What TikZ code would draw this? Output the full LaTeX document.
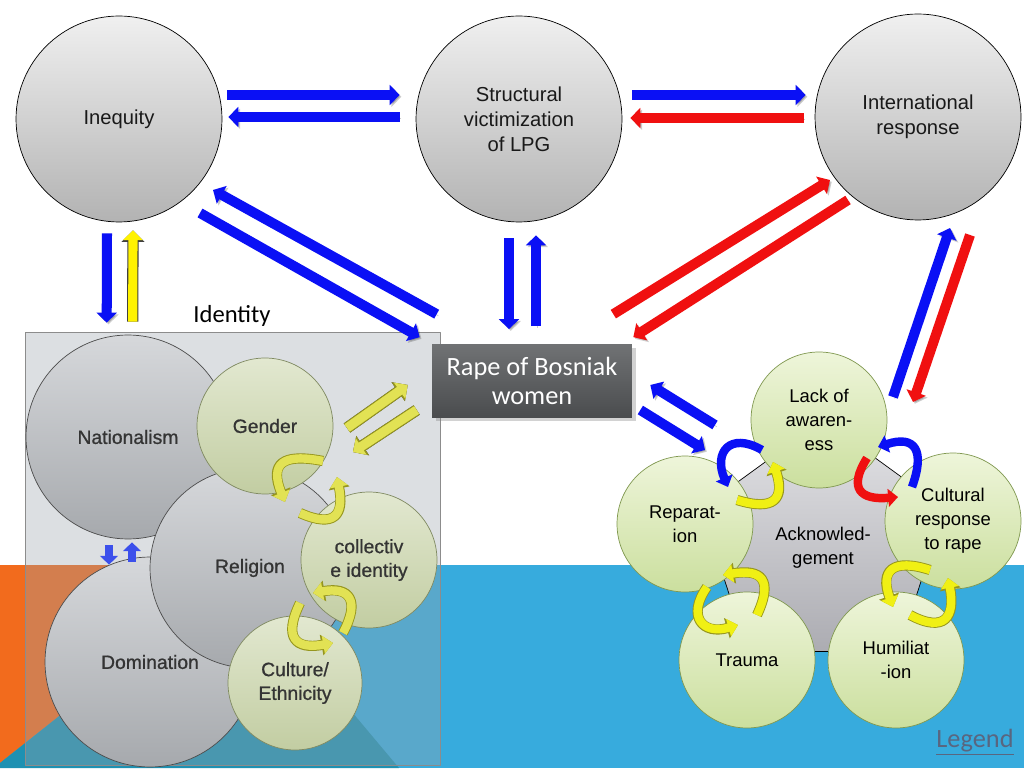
\documentclass[tikz,border=0pt]{standalone}
\usepackage{fontspec}
\setmainfont{Liberation Sans}
\newfontfamily\calib{Carlito}
\newfontfamily\idfont{Liberation Sans}[FakeBold=0.9]
\usetikzlibrary{shapes.geometric,arrows.meta,calc,shadows}
\definecolor{arrblue}{RGB}{10,16,245}
\definecolor{arrred}{RGB}{240,16,16}
\definecolor{sblue}{RGB}{60,80,235}
\definecolor{bandblue}{RGB}{55,171,221}
\definecolor{darkband}{RGB}{30,145,178}
\definecolor{orng}{RGB}{242,107,29}
\definecolor{boxgray}{RGB}{155,164,172}
\definecolor{idtext}{RGB}{52,52,52}
\definecolor{idgtop}{RGB}{214,216,219}
\definecolor{idgbot}{RGB}{166,169,173}
\definecolor{idrtop}{RGB}{226,232,208}
\definecolor{idrbot}{RGB}{194,205,162}
\definecolor{idredge}{RGB}{128,138,98}
\definecolor{acktop}{RGB}{238,245,218}
\definecolor{ackbot}{RGB}{203,223,158}
\definecolor{ackedge}{RGB}{128,152,80}
\definecolor{penttop}{RGB}{228,228,231}
\definecolor{pentbot}{RGB}{172,172,178}
\definecolor{rapetop}{RGB}{112,114,116}
\definecolor{rapebot}{RGB}{74,76,78}
\definecolor{olive}{RGB}{150,150,30}
\definecolor{paley}{RGB}{226,226,84}
\definecolor{cyel}{RGB}{240,240,20}
\definecolor{legendc}{RGB}{89,102,128}
\begin{document}
\begin{tikzpicture}[x=.02cm, y=.02cm, line join=round]
\tikzset{
  bigc/.style={circle, draw=black, top color=black!6, bottom color=black!30, minimum size=4.12cm, inner sep=0pt, align=center, text=black!90, font=\fontsize{11.5}{14.2}\selectfont},
  idgc/.style={circle, draw=black!70, top color=idgtop, bottom color=idgbot, inner sep=0pt, align=center, text=idtext, font=\idfont\fontsize{11}{13.5}\selectfont},
  idgr/.style={idgc, draw=idredge, top color=idrtop, bottom color=idrbot, minimum size=2.72cm},
  ackc/.style={circle, draw=ackedge, top color=acktop, bottom color=ackbot, minimum size=2.72cm, inner sep=0pt, align=center, font=\fontsize{10.5}{13.6}\selectfont},
  barr/.style={draw=arrblue, line width=5.7pt, -{Triangle[width=11.3pt,length=5.7pt]}, preaction={draw=black, opacity=.2, transform canvas={shift={(1pt,-1pt)}}}},
  rarr/.style={barr, draw=arrred},
  yarr/.style={draw=yellow, line width=5.2pt, -{Triangle[width=11pt,length=5.6pt]}, preaction={draw=black!75, line width=6.4pt, -{Triangle[width=12.8pt,length=6.6pt]}}},
  gyarr/.style={yarr, draw=paley, preaction={draw=olive, line width=6.4pt, -{Triangle[width=12.8pt,length=6.6pt]}}},
  cyarr/.style={draw=cyel, line width=4.8pt, looseness=1.9, -{Triangle[width=10pt,length=5.6pt]}, preaction={draw=olive, line width=5.8pt, -{Triangle[width=11.6pt,length=6.6pt]}}},
  idyarr/.style={cyarr, draw=paley},
  cbarr/.style={draw=arrblue, line width=4.8pt, looseness=1.9, -{Triangle[width=10pt,length=5.6pt]}},
  crarr/.style={cbarr, draw=arrred},
  sbarr/.style={draw=sblue, line width=4.5pt, -{Triangle[width=10pt,length=5pt]}}
}
\useasboundingbox (0,0) rectangle (1024,768);
% background
\fill[white] (0,0) rectangle (1024,768);
\fill[bandblue] (0,0) rectangle (1024,203);
\fill[orng] (0,203) -- (250,203) -- (0,5) -- cycle;
\fill[darkband] (0,0) -- (0,5) -- (237,193) -- (399,0) -- cycle;
% identity box
\node[draw=black!45, fill=boxgray, fill opacity=.35, minimum width=8.3cm, minimum height=8.66cm, inner sep=0pt] (idbox) at (232.5,219.5) {};
\node[font=\calib\fontsize{14}{17}\selectfont] (idlab) at (232,452) {Identity};
% top circles
\node[bigc] (ineq) at (119,649) {Inequity};
\node[bigc] (struct) at (519,649) {Structural\\victimization\\of LPG};
\node[bigc] (intl) at (918,651) {International\\response};
% identity circles
\node[idgc, minimum size=4.08cm] (nat) at (128,331) {Nationalism};
\node[idgc, minimum size=4.2cm] (dom) at (150,106) {Domination};
\node[idgc, minimum size=4cm] (rel) at (250,200) {Religion};
\node[idgr] (gen) at (265,342) {Gender};
\node[idgr] (coll) at (369,208) {collectiv\\e identity};
\node[idgr, minimum size=2.68cm] (cult) at (295,85) {Culture/\\Ethnicity};
% acknowledgement cycle
\node[regular polygon, regular polygon sides=5, minimum size=5.12cm, inner sep=0pt, draw=black, top color=penttop, bottom color=pentbot, align=center, font=\fontsize{10.5}{13.6}\selectfont] (ack) at (823,220) {Acknowled-\\gement};
\node[ackc] (lack) at (819,348) {Lack of\\awaren-\\ess};
\node[ackc] (repa) at (685,244) {Reparat-\\ion};
\node[ackc] (cultr) at (953,247) {Cultural\\response\\to rape};
\node[ackc] (trauma) at (747,108) {Trauma};
\node[ackc] (humil) at (896,108) {Humiliat\\-ion};
% rape box
\node[rectangle, top color=rapetop, bottom color=rapebot, drop shadow={opacity=.35, shadow xshift=2pt, shadow yshift=-2pt}, minimum width=4cm, minimum height=1.46cm, text=white, align=center, font=\calib\fontsize{15}{17}\selectfont] (rape) at (532,387) {Rape of Bosniak\\women};
% straight arrows
\draw[barr] ($(ineq.east)+(5,24)$) -- ($(struct.west)+(-16,24)$);
\draw[barr] ($(struct.west)+(-16,2)$) -- ($(ineq.east)+(6,2)$);
\draw[barr] ($(struct.east)+(10,24)$) -- ($(intl.west)+(-9,22)$);
\draw[rarr] ($(intl.west)+(-11,-1)$) -- ($(struct.east)+(8,1)$);
\draw[barr] ($(rape.north west)+(5,30)$) -- ($(ineq)+(94,-71)$);
\draw[barr] ($(ineq)+(81,-94)$) -- ($(rape.north west)+(-12,7)$);
\draw[barr] ($(ineq.south)+(-12,-11)$) -- ($(idbox.north west)+(82,9)$);
\draw[yarr] ($(idbox.north west)+(108,10)$) -- ($(ineq.south)+(14,-8)$);
\draw[barr] ($(struct.south)+(-10,-16)$) -- ($(rape.north)+(-23,15)$);
\draw[barr] ($(rape.north)+(4,18)$) -- ($(struct.south)+(17,-13)$);
\draw[rarr] ($(rape.north east)+(-19,30)$) -- ($(intl)+(-88,-63)$);
\draw[rarr] ($(intl)+(-70,-83)$) -- ($(rape.north east)+(1,7)$);
\draw[barr] ($(lack)+(74,23)$) -- ($(intl)+(32,-111)$);
\draw[rarr] ($(intl)+(52,-118)$) -- ($(lack)+(94,18)$);
\draw[barr] ($(repa)+(30,99)$) -- ($(rape.east)+(18,-4)$);
\draw[barr] ($(rape.east)+(8,-29)$) -- ($(repa)+(20,74)$);
\draw[gyarr] ($(gen)+(82,-2)$) -- ($(rape.west)+(-24,-4)$);
\draw[gyarr] ($(rape.west)+(-15,-29)$) -- ($(gen)+(88,-26)$);
\draw[sbarr] ($(nat.south)+(-19,-6)$) -- ($(dom.north)+(-41,-8)$);
\draw[sbarr] ($(dom.north)+(-18,-5)$) -- ($(nat.south)+(4,-3)$);
% loops in the identity box
\draw[idyarr] ($(gen)+(58,-35)$) to[out=169,in=112] ($(gen)+(20,-76)$);
\draw[idyarr] ($(coll)+(-69,47)$) to[out=-24,in=-79] ($(coll)+(-32,83)$);
\draw[idyarr] ($(coll)+(-26,-73)$) to[out=62,in=10] ($(coll)+(-56,-33)$);
\draw[idyarr] ($(cult)+(5,80)$) to[out=-116,in=190] ($(cult)+(38,40)$);
% loops in the cycle
\draw[cbarr] ($(lack)+(-57,-30)$) to[out=150,in=113] ($(repa)+(43,37)$);
\draw[cyarr] ($(repa)+(52,24)$) to[out=-17,in=-72] ($(lack)+(-46,-42)$);
\draw[cbarr] ($(cultr)+(-41,34)$) to[out=70,in=18] ($(lack)+(59,-27)$);
\draw[crarr] ($(lack)+(48,-38)$) to[out=-122,in=185] ($(cultr)+(-55,24)$);
\draw[cyarr] ($(cultr)+(-23,-49)$) to[out=162,in=110] ($(humil)+(-3,53)$);
\draw[cyarr] ($(humil)+(14,45)$) to[out=-28,in=-79] ($(cultr)+(-5,-57)$);
\draw[cyarr] ($(trauma)+(10,45)$) to[out=65,in=9] ($(repa)+(38,-51)$);
\draw[cyarr] ($(repa)+(22,-63)$) to[out=-125,in=196] ($(trauma)+(-9,35)$);
\node[font=\calib\fontsize{15}{18}\selectfont, text=legendc] (legend) at (975,26) {\underline{Legend}};
\end{tikzpicture}
\end{document}
